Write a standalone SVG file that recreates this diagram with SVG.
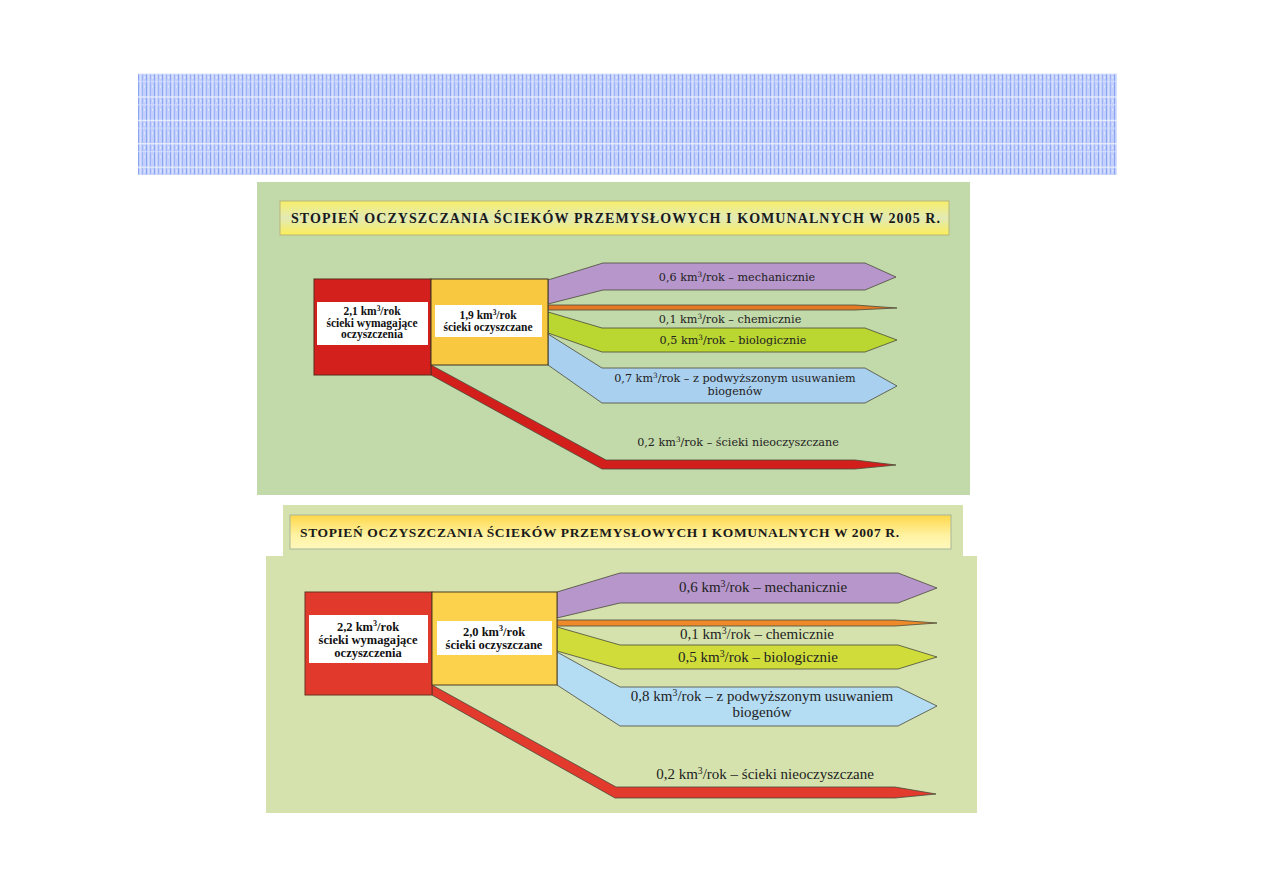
<svg xmlns="http://www.w3.org/2000/svg" width="1263" height="893" viewBox="0 0 1263 893">
<defs>
<pattern id="grid" x="138" y="73" width="8" height="23.4" patternUnits="userSpaceOnUse">
<rect width="8" height="23.4" fill="#c2d0fb"/>
<rect x="0" y="0" width="1" height="23.4" fill="#8aa4f4"/>
<rect x="4" y="0" width="1" height="23.4" fill="#9fb4f6"/>
<rect x="2" y="0" width="1" height="23.4" fill="#d6e0fd"/>
<rect x="0" y="8" width="8" height="1" fill="#d4ddfd"/>
<rect x="0" y="0" width="8" height="1.2" fill="#eef2ff"/>
<rect x="6" y="4" width="1" height="1" fill="#ffffff"/>
<rect x="6" y="13" width="1" height="1" fill="#ffffff"/>
</pattern>
<linearGradient id="title1" x1="0" y1="0" x2="0" y2="1">
<stop offset="0" stop-color="#f7ef6a"/>
<stop offset="0.5" stop-color="#e2eab6"/>
<stop offset="1" stop-color="#fbee5a"/>
</linearGradient>
<linearGradient id="title2" x1="0" y1="0" x2="0" y2="1">
<stop offset="0" stop-color="#ffd84a"/>
<stop offset="0.6" stop-color="#fff2a2"/>
<stop offset="1" stop-color="#fff8bc"/>
</linearGradient>
<style>
.ttl{font-family:"Liberation Serif",serif;font-weight:bold;fill:#1a1a1a}
.box{font-family:"Liberation Serif",serif;font-weight:bold;fill:#111;text-anchor:middle}
.l1{font-family:"DejaVu Serif",serif;font-size:11.2px;fill:#222;text-anchor:middle}
.l2{font-family:"Liberation Serif",serif;font-size:15px;fill:#222;text-anchor:middle}
.sup{font-size:65%}
.ar{stroke:#4a4a3a;stroke-width:0.8;stroke-linejoin:round}
</style>
</defs>
<rect width="1263" height="893" fill="#ffffff"/>
<rect id="banner" x="138" y="73" width="979" height="102" fill="url(#grid)"/>

<!-- Panel 2005 -->
<g id="panel2005">
<rect x="257" y="182" width="713" height="313" fill="#c2d9a9"/>
<g id="title2005">
<rect x="280" y="201" width="669" height="34" fill="url(#title1)" stroke="#b6b67a" stroke-width="1"/>
<text class="ttl" x="291" y="223" font-size="14" textLength="649" lengthAdjust="spacing">STOPIEŃ OCZYSZCZANIA ŚCIEKÓW PRZEMYSŁOWYCH I KOMUNALNYCH W 2005 R.</text>
</g>
<g id="conn2005">
<polygon class="ar" fill="#b696cb" points="548,280 603,263 865,263 896,277 865,290 603,290 548,304"/>
<polygon class="ar" fill="#e27a26" points="548,305 855,305 897,308 855,310 548,310"/>
<polygon class="ar" fill="#bad631" points="548,312 602,328 865,328 897,340 865,352 602,352 548,333"/>
<polygon class="ar" fill="#aad0ef" points="548,334 602,368 865,368 897,386 865,403 602,403 548,365"/>
<polygon class="ar" fill="#d31f1c" points="431,365 606,460 855,460 896,465 855,469 602,469 431,375"/>
</g>
<g id="src2005">
<rect x="314" y="279" width="117" height="96" fill="#d3201d" stroke="#5a2a1a" stroke-width="1"/>
<rect x="317" y="302" width="111" height="43" fill="#ffffff"/>
<text class="box" font-size="11.5"><tspan x="372" y="315">2,1 km<tspan class="sup" dy="-4">3</tspan><tspan dy="4">/rok</tspan></tspan><tspan x="372" y="327">ścieki wymagające</tspan><tspan x="372" y="338">oczyszczenia</tspan></text>
</g>
<g id="treated2005">
<rect x="431" y="279" width="117" height="86" fill="#f8c940" stroke="#3a3020" stroke-width="1"/>
<rect x="435" y="305" width="107" height="32" fill="#ffffff"/>
<text class="box" font-size="11.5"><tspan x="488" y="319">1,9 km<tspan class="sup" dy="-4">3</tspan><tspan dy="4">/rok</tspan></tspan><tspan x="488" y="331">ścieki oczyszczane</tspan></text>
</g>
<g id="labels2005">
<text class="l1" x="737" y="281">0,6 km<tspan class="sup" dy="-4">3</tspan><tspan dy="4">/rok – mechanicznie</tspan></text>
<text class="l1" x="730" y="323">0,1 km<tspan class="sup" dy="-4">3</tspan><tspan dy="4">/rok – chemicznie</tspan></text>
<text class="l1" x="733" y="344">0,5 km<tspan class="sup" dy="-4">3</tspan><tspan dy="4">/rok – biologicznie</tspan></text>
<text class="l1"><tspan x="735" y="382">0,7 km<tspan class="sup" dy="-4">3</tspan><tspan dy="4">/rok – z podwyższonym usuwaniem</tspan></tspan><tspan x="735" y="395">biogenów</tspan></text>
<text class="l1" x="738" y="446">0,2 km<tspan class="sup" dy="-4">3</tspan><tspan dy="4">/rok – ścieki nieoczyszczane</tspan></text>
</g>
</g>

<!-- Panel 2007 -->
<g id="panel2007">
<rect x="283" y="505" width="680" height="52" fill="#d5e2ae"/>
<rect x="266" y="556" width="711" height="257" fill="#d5e2ae"/>
<g id="title2007">
<rect x="290" y="515" width="661" height="34" fill="url(#title2)" stroke="#a8b69a" stroke-width="1"/>
<text class="ttl" x="300" y="537" font-size="13.5" textLength="599" lengthAdjust="spacing">STOPIEŃ OCZYSZCZANIA ŚCIEKÓW PRZEMYSŁOWYCH I KOMUNALNYCH W 2007 R.</text>
</g>
<g id="conn2007">
<polygon class="ar" fill="#b696cb" points="557,592 620,573 898,573 937,588 898,603 620,603 557,618"/>
<polygon class="ar" fill="#ee8a2a" points="557,620 895,620 937,623 895,626 557,626"/>
<polygon class="ar" fill="#cfdc3a" points="557,627 620,645 898,645 937,657 898,669 620,669 557,651"/>
<polygon class="ar" fill="#b4dcf3" points="557,652 620,687 898,687 937,706 898,726 620,726 557,685"/>
<polygon class="ar" fill="#e23a2c" points="432,685 616,787 895,787 936,794 895,798 615,798 432,695"/>
</g>
<g id="src2007">
<rect x="305" y="592" width="127" height="103" fill="#e13a2c" stroke="#6a3020" stroke-width="1"/>
<rect x="309" y="615" width="119" height="48" fill="#ffffff"/>
<text class="box" font-size="12.5"><tspan x="368" y="631">2,2 km<tspan class="sup" dy="-5">3</tspan><tspan dy="5">/rok</tspan></tspan><tspan x="368" y="644">ścieki wymagające</tspan><tspan x="368" y="657">oczyszczenia</tspan></text>
</g>
<g id="treated2007">
<rect x="432" y="592" width="125" height="93" fill="#fcd24c" stroke="#4a3a20" stroke-width="1"/>
<rect x="437" y="621" width="115" height="34" fill="#ffffff"/>
<text class="box" font-size="12.5"><tspan x="494" y="636">2,0 km<tspan class="sup" dy="-5">3</tspan><tspan dy="5">/rok</tspan></tspan><tspan x="494" y="649">ścieki oczyszczane</tspan></text>
</g>
<g id="labels2007">
<text class="l2" x="763" y="592">0,6 km<tspan class="sup" dy="-5">3</tspan><tspan dy="5">/rok – mechanicznie</tspan></text>
<text class="l2" x="757" y="639">0,1 km<tspan class="sup" dy="-5">3</tspan><tspan dy="5">/rok – chemicznie</tspan></text>
<text class="l2" x="758" y="662">0,5 km<tspan class="sup" dy="-5">3</tspan><tspan dy="5">/rok – biologicznie</tspan></text>
<text class="l2"><tspan x="762" y="701">0,8 km<tspan class="sup" dy="-5">3</tspan><tspan dy="5">/rok – z podwyższonym usuwaniem</tspan></tspan><tspan x="762" y="717">biogenów</tspan></text>
<text class="l2" x="765" y="779">0,2 km<tspan class="sup" dy="-5">3</tspan><tspan dy="5">/rok – ścieki nieoczyszczane</tspan></text>
</g>
</g>
</svg>
